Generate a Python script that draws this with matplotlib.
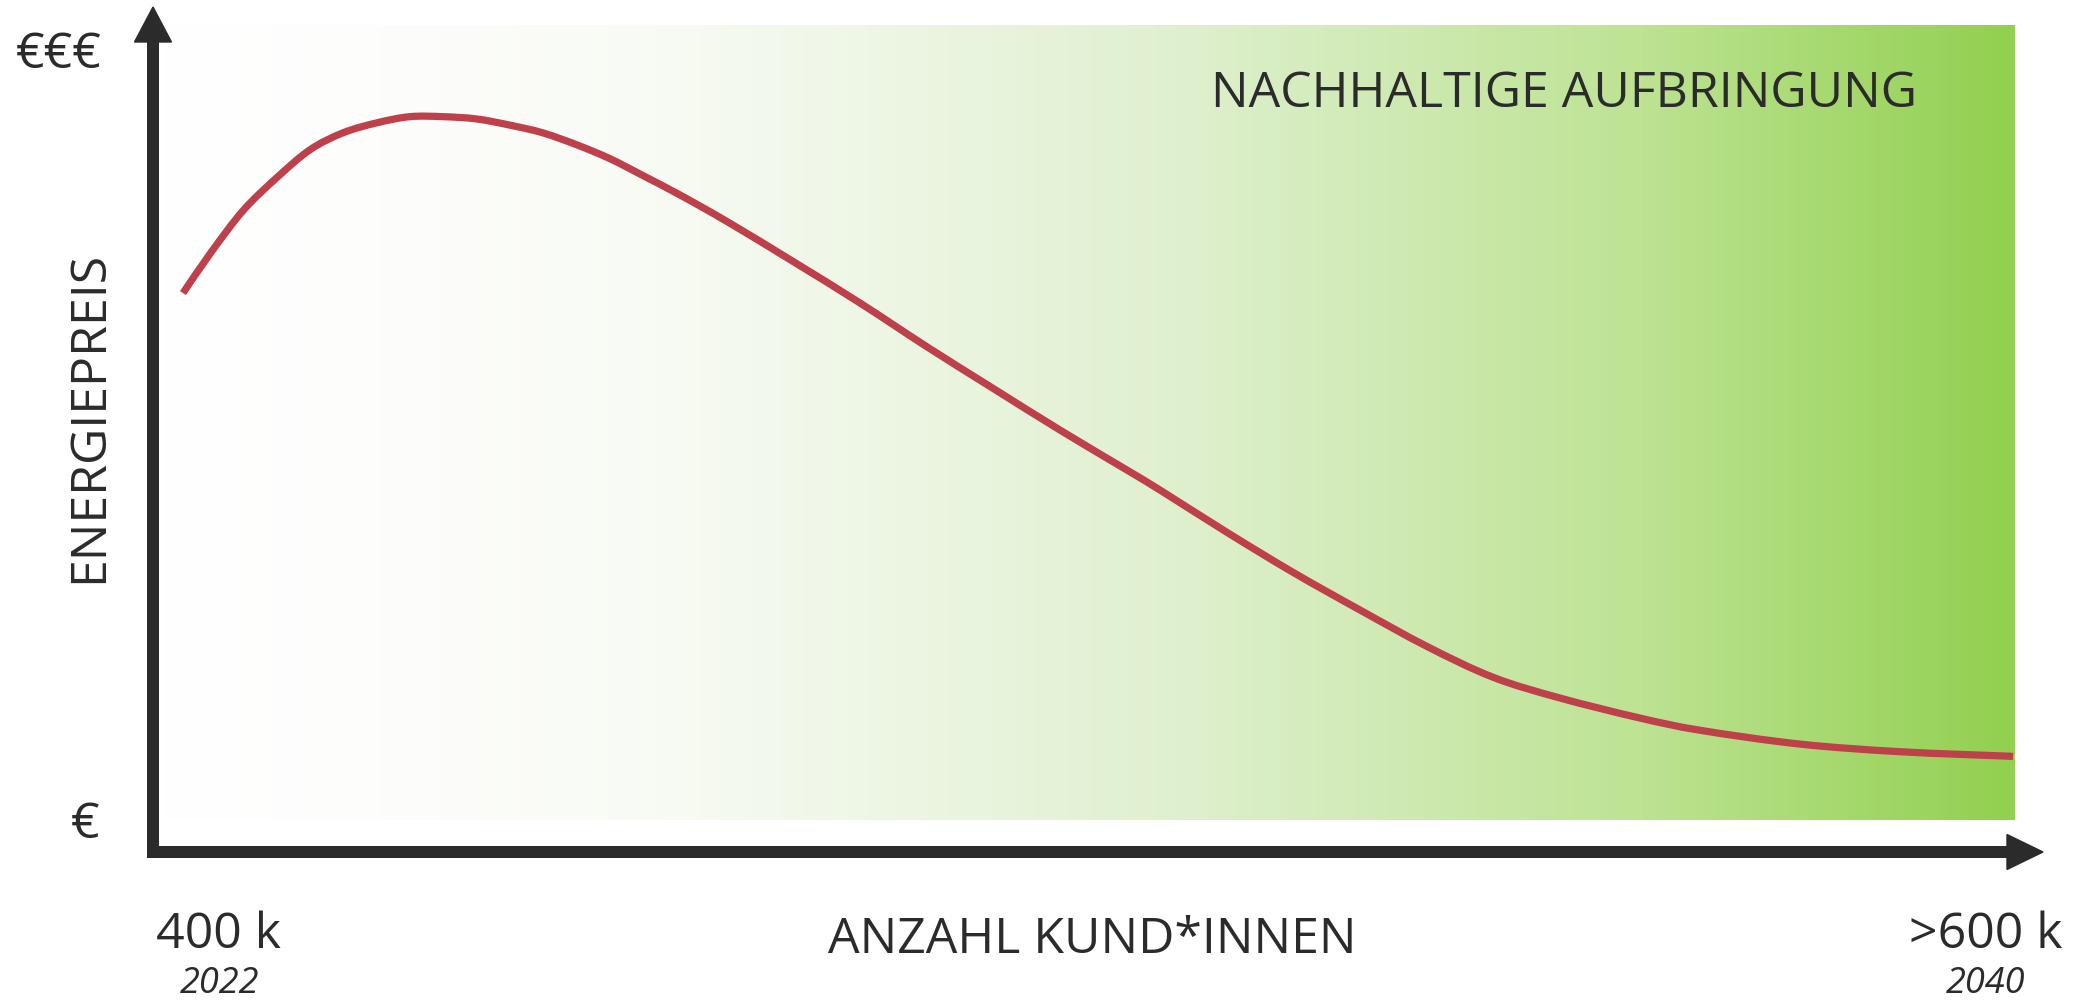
import numpy as np
import matplotlib
matplotlib.use("Agg")
import matplotlib.pyplot as plt
from matplotlib.colors import LinearSegmentedColormap
from matplotlib.patches import Polygon, PathPatch
from matplotlib.path import Path

plt.rcParams["font.family"] = ["Open Sans", "DejaVu Sans"]

# customers in thousands (x) vs. relative energy price index 0 (€) .. 100 (€€€)
kunden_k = [400.0, 403.0, 406.6, 410.3, 413.9, 417.5, 421.2, 424.8, 428.4, 432.1,
            435.7, 439.3, 443.1, 446.7, 450.3, 454.3, 459.5, 466.7, 474.0, 481.3,
            488.5, 495.9, 503.2, 506.8, 514.1, 521.3, 528.6, 536.0, 543.2, 550.5,
            559.2, 565.8, 576.7, 587.7, 600.0]
preis_idx = [68.7, 73.9, 79.5, 83.8, 87.4, 89.6, 90.9, 91.7, 91.7, 91.4,
             90.6, 89.6, 88.0, 86.2, 84.0, 81.5, 78.0, 72.8, 67.4, 61.7,
             56.3, 50.8, 45.6, 43.0, 37.5, 32.3, 27.4, 22.6, 18.6, 15.9,
             13.3, 11.7, 9.9, 8.9, 8.3]

y_labels = ["€", "€€€"]
x_start = ["400 k", "2022"]
x_end = [">600 k", "2040"]
x_title = "ANZAHL KUND*INNEN"
y_title = "ENERGIEPREIS"
area_label = "NACHHALTIGE AUFBRINGUNG"

W, H = 2080, 1000
dark = "#2b2b2b"
red = "#bd404a"


def smooth_path(xs, ys):
    # catmull-rom through the read points, drawn as cubic bezier segments
    p = np.column_stack([xs, ys])
    p = np.vstack([p[0], p, p[-1]])
    verts = [p[1]]
    codes = [Path.MOVETO]
    for i in range(1, len(p) - 2):
        c1 = p[i] + (p[i + 1] - p[i - 1]) / 6
        c2 = p[i + 1] - (p[i + 2] - p[i]) / 6
        verts += [c1, c2, p[i + 1]]
        codes += [Path.CURVE4] * 3
    return Path(verts, codes)


fig = plt.figure(figsize=(W / 100, H / 100), dpi=100)

# data area = gradient box (pixels 155..2015 x 25..820)
left, right, top, bottom = 155, 2015, 25, 820
ax = fig.add_axes([left / W, 1 - bottom / H, (right - left) / W, (bottom - top) / H])
px_x = 200 / 1830
px_y = 100 / 767
xlim = (400 - 28 * px_x, 600 + 2 * px_x)
ylim = (0, 100 + 28 * px_y)
ax.set_xlim(*xlim)
ax.set_ylim(*ylim)
ax.axis("off")

green = LinearSegmentedColormap.from_list(
    "green", [(0.0, "#ffffff"), (0.12, "#fdfdfc"), (0.27, "#f8fbf4"),
              (0.55, "#dff0cf"), (0.8, "#bde393"), (1.0, "#92d050")])
ax.imshow(np.linspace(0, 1, 600).reshape(1, -1), cmap=green, aspect="auto",
          extent=(xlim[0], xlim[1], ylim[0], ylim[1]), zorder=0)
ax.add_patch(PathPatch(smooth_path(kunden_k, preis_idx), facecolor="none",
                       edgecolor=red, lw=5.2, capstyle="butt", joinstyle="round",
                       zorder=2))

# overlay in pixel coordinates for arrows and text
ov = fig.add_axes([0, 0, 1, 1], zorder=3)
ov.set_xlim(0, W)
ov.set_ylim(H, 0)
ov.axis("off")
ov.patch.set_alpha(0)

lw = 12 * 72 / 100
ov.plot([153, 153], [858, 40], color=dark, lw=lw, solid_capstyle="butt")
ov.add_patch(Polygon([(134.5, 42), (171.5, 42), (153, 7)], closed=True, color=dark))
ov.plot([147, 2009], [852, 852], color=dark, lw=lw, solid_capstyle="butt")
ov.add_patch(Polygon([(2007, 834.5), (2007, 869.5), (2043, 852)], closed=True, color=dark))

fs = 36
ov.text(102, 68, y_labels[1], ha="right", va="baseline", fontsize=fs, color=dark)
ov.text(99, 838, y_labels[0], ha="right", va="baseline", fontsize=fs, color=dark)
ov.text(102, 417, y_title, rotation=90, rotation_mode="anchor", ha="center",
        va="baseline", fontsize=fs, color=dark)
ov.text(1564, 107, area_label, ha="center", va="baseline", fontsize=fs, color=dark)
ov.text(1092, 953, x_title, ha="center", va="baseline", fontsize=fs, color=dark)
ov.text(218, 948, x_start[0], ha="center", va="baseline", fontsize=fs, color=dark)
ov.text(220, 993, x_start[1], ha="center", va="baseline", fontsize=26,
        style="italic", color=dark)
ov.text(1986, 948, x_end[0], ha="center", va="baseline", fontsize=fs, color=dark)
ov.text(1986, 993, x_end[1], ha="center", va="baseline", fontsize=26,
        style="italic", color=dark)

fig.savefig("out.png", dpi=100)
